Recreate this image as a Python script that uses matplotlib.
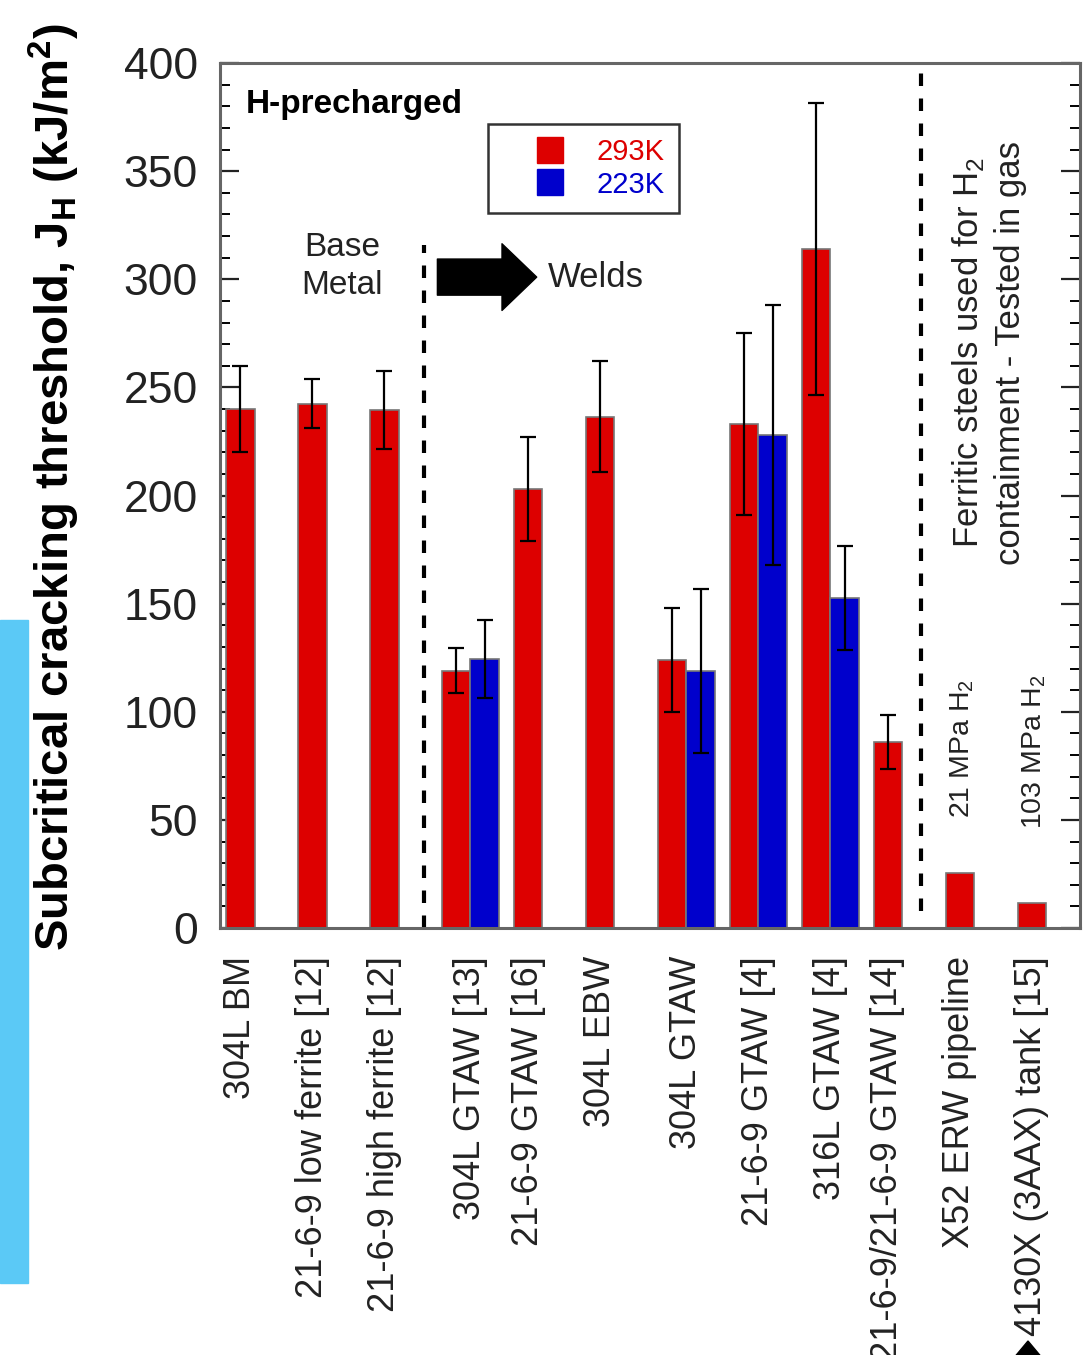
import matplotlib
matplotlib.use('Agg')
import matplotlib.pyplot as plt
import numpy as np
from matplotlib.lines import Line2D
from matplotlib.patches import Rectangle, Polygon
from matplotlib.ticker import MultipleLocator

plt.rcParams['font.family'] = ['Liberation Sans', 'DejaVu Sans']

# Material / weld categories (one slot each along x)
labels = ['304L BM', '21-6-9 low ferrite [12]', '21-6-9 high ferrite [12]',
          '304L GTAW [13]', '21-6-9 GTAW [16]', '304L EBW', '304L GTAW',
          '21-6-9 GTAW [4]', '316L GTAW [4]', '21-6-9/21-6-9 GTAW [14]',
          'X52 ERW pipeline', '4130X (3AAX) tank [15]']

# J_H at 293 K with scatter (kJ/m^2)
jh_293 = [240, 242.5, 239.5, 119, 203, 236.5, 124, 233, 314, 86, 25.5, 11.5]
err_293 = [20, 11.5, 18, 10.5, 24, 25.5, 24, 42, 67.5, 12.5, 0, 0]

# J_H at 223 K, only measured for some of the welds
idx_223 = [3, 6, 7, 8]
jh_223 = [124.5, 119, 228, 152.5]
err_223 = [18, 38, 60, 24]

red = '#dd0000'
blue = '#0000cc'
w = 0.4

fig = plt.figure(figsize=(10.86, 13.55), dpi=100)
ax = fig.add_axes([0.2026, 0.3151, 0.792, 0.6384])

x = np.arange(len(labels))
ekw = dict(ecolor='black', elinewidth=1.6, capsize=6, capthick=1.6)
has_err = [e > 0 for e in err_293]
ax.bar(x, jh_293, width=w, color=red, edgecolor='#777777', linewidth=1.2, zorder=2)
ax.errorbar(x[has_err], np.array(jh_293)[has_err], yerr=np.array(err_293)[has_err],
            fmt='none', zorder=3, **ekw)
xb = np.array(idx_223) + w
ax.bar(xb, jh_223, width=w, color=blue, edgecolor='#777777', linewidth=1.2, zorder=2)
ax.errorbar(xb, jh_223, yerr=err_223, fmt='none', zorder=3, **ekw)

# tick labels sit under the middle of each group
centers = x.astype(float)
centers[idx_223] += w / 2
ax.set_xticks(centers)
ax.set_xticklabels(labels, rotation=90, fontsize=26, color='#222222')
ax.tick_params(axis='x', length=0, pad=20)

ax.set_xlim(-0.28, 11.67)
ax.set_ylim(0, 400)
ax.yaxis.set_major_locator(MultipleLocator(50))
ax.yaxis.set_minor_locator(MultipleLocator(10))
ax.tick_params(axis='y', which='major', direction='in', length=14, width=1.6,
               labelsize=32, pad=16, right=True, colors='#222222')
ax.tick_params(axis='y', which='minor', direction='in', length=7, width=1.4, right=True)
for s in ax.spines.values():
    s.set_color('#666666')
    s.set_linewidth(2.2)

ax.set_ylabel('Subcritical cracking threshold, J$_\\mathregular{H}$ (kJ/m$^\\mathregular{2}$)',
              fontsize=34, fontweight='bold')
ax.yaxis.set_label_coords(-0.16, 0.51)

# section separators
ax.vlines(2.56, 0, 316, colors='black', linestyles=(0, (3, 3)), linewidth=3)
ax.vlines(9.46, 8, 400, colors='black', linestyles=(0, (3, 3)), linewidth=3)

ax.text(0.03, 0.97, 'H-precharged', transform=ax.transAxes, fontsize=24,
        fontweight='bold', va='top', ha='left')
ax.text(1.42, 306, 'Base\nMetal', fontsize=24, ha='center', va='center',
        linespacing=1.3, color='#222222')
ax.annotate('', xy=(4.12, 301), xytext=(2.74, 301),
            arrowprops=dict(arrowstyle='simple,head_length=2.5,head_width=4.8,tail_width=2.6',
                            fc='black', ec='black', mutation_scale=10,
                            shrinkA=0, shrinkB=0))
ax.text(4.28, 301, 'Welds', fontsize=25, ha='left', va='center', color='#222222')

ax.text(10.4, 168, 'Ferritic steels used for H$_\\mathregular{2}$\ncontainment - Tested in gas',
        rotation=90, fontsize=25, ha='center', va='bottom', linespacing=1.3,
        color='#222222')
ax.text(10.03, 51, '21 MPa H$_\\mathregular{2}$', rotation=90, fontsize=20.5,
        ha='center', va='bottom', color='#222222')
ax.text(11.03, 46, '103 MPa H$_\\mathregular{2}$', rotation=90, fontsize=20.5,
        ha='center', va='bottom', color='#222222')

handles = [Line2D([], [], ls='none', marker='s', ms=19, mfc=red, mec=red),
           Line2D([], [], ls='none', marker='s', ms=19, mfc=blue, mec=blue)]
leg = ax.legend(handles, ['293K', '223K'], loc='upper left',
                bbox_to_anchor=(0.312, 0.93), fontsize=21, numpoints=1,
                handlelength=3.2, handletextpad=0.0, labelspacing=0.15,
                borderpad=0.5, borderaxespad=0, fancybox=False,
                labelcolor=[red, blue], framealpha=1)
leg.get_frame().set_edgecolor('#333333')
leg.get_frame().set_linewidth(1.8)

# side strip and marker at the bottom edge
fig.patches.append(Rectangle((0, 0.053), 0.0258, 0.4894, transform=fig.transFigure,
                             color='#5bc9f6', zorder=0))
fig.patches.append(Polygon([(1028 / 1086, 1 - 1341 / 1355), (1005 / 1086, -0.01),
                            (1051 / 1086, -0.01)], closed=True, transform=fig.transFigure,
                           color='black'))

fig.savefig('out.png', dpi=100)
